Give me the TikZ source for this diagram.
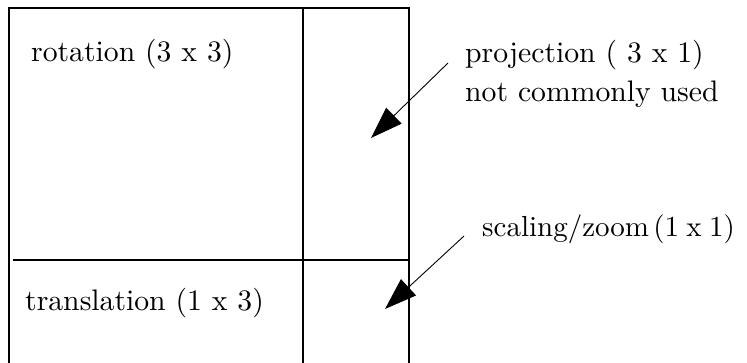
\documentclass[tikz,border=0pt]{standalone}
\usepackage{graphicx}
\usetikzlibrary{arrows.meta}
\newcommand{\biglbl}[2][2.97]{\scalebox{#1}{\fontsize{10}{12}\selectfont #2}}
\begin{document}
\begin{tikzpicture}[x=1pt,y=-1pt,
  lbl/.style={inner sep=0pt,anchor=base west},
  frame/.style={line width=1.5pt,line cap=rect},
  pointer/.style={line width=0.9pt,-{Triangle[length=32pt,width=22pt]}}]
\useasboundingbox (0,0) rectangle (747,362);
% matrix frame
\draw[frame] (9,375) -- (9,8) -- (409,8) -- (409,375);
\draw[frame] (303,8) -- (303,375);
\draw[frame] (14,260) -- (409,260);
% labels
\node[lbl] (rot) at (31,61) {\biglbl{rotation (3 x 3)}};
\node[lbl] (trans) at (25,310) {\biglbl{translation (1 x 3)}};
\node[lbl] (proj) at (465,62) {\biglbl{projection ( 3 x 1)}};
\node[lbl] (notc) at (465,101) {\biglbl{not commonly used}};
\node[lbl] (scal) at (482,236) {\biglbl[2.9]{scaling/zoom\hspace{0.15em}(1\hspace{0.25em}x\hspace{0.25em}1)}};
% arrows
\coordinate (p1) at (448,63);
\coordinate (t1) at (371,138);
\coordinate (p2) at (464,236);
\coordinate (t2) at (385,309);
\draw[pointer] (p1) -- (t1);
\draw[pointer] (p2) -- (t2);
\end{tikzpicture}
\end{document}
